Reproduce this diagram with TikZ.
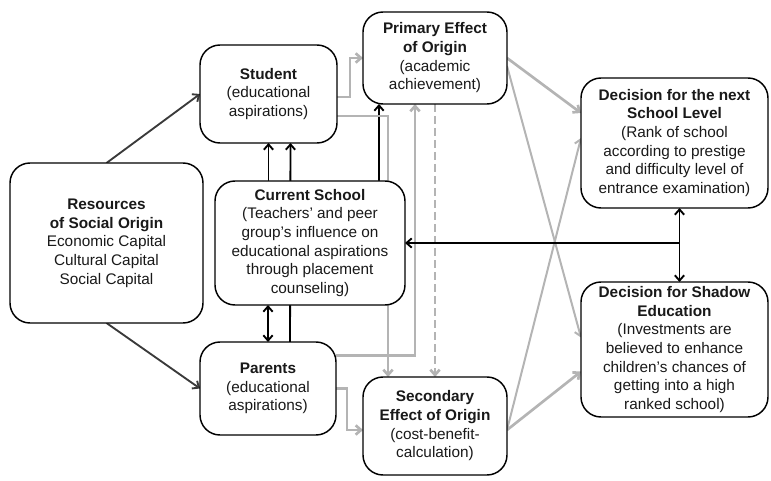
\documentclass[tikz,border=0pt]{standalone}
\usepackage{fontspec}
\setmainfont{Liberation Sans}
\usepackage{tikz}
\usetikzlibrary{arrows.meta,calc,backgrounds}
\definecolor{linegray}{HTML}{B4B4B4}
\definecolor{darkline}{HTML}{3A3A3A}

\begin{document}
\begin{tikzpicture}[x=0.75pt, y=-0.75pt, >={Straight Barb[length=4pt,width=7pt]},
  box/.style = {draw, rounded corners=15pt, line width=1.1pt, fill=white,
                align=center, inner sep=0pt, outer sep=0pt, text=black!90,
                font=\fontsize{11.5}{14}\selectfont},
  blackarr/.style = {line width=1.4pt, ->},
  darkarr/.style  = {line width=1.4pt, darkline, ->},
  grayarr/.style  = {line width=2pt, linegray, ->},
  ]
\useasboundingbox (0,0) rectangle (771,481);

% boxes
\node[box, minimum width=144.75pt, minimum height=120pt] (res) at (106.5,243)
  {\textbf{Resources}\\\textbf{of Social Origin}\\Economic Capital\\Cultural Capital\\Social Capital};
\node[box, minimum width=102.75pt, minimum height=73.5pt] (stud) at (268.5,94)
  {\textbf{Student}\\(educational\\aspirations)};
\node[box, minimum width=108pt, minimum height=69pt] (prim) at (435,58)
  {\textbf{Primary Effect}\\\textbf{of Origin}\\(academic\\achievement)};
\node[box, minimum width=142.5pt, minimum height=93pt] (cur) at (310,243)
  {\textbf{Current School}\\(Teachers' and peer\\group's influence on\\educational aspirations\\through placement\\counseling)};
\node[box, minimum width=102pt, minimum height=69.75pt] (par) at (268,388.5)
  {\textbf{Parents}\\(educational\\aspirations)};
\node[box, minimum width=108pt, minimum height=73.5pt] (sec) at (435,426)
  {\textbf{Secondary}\\\textbf{Effect of Origin}\\(cost-benefit-\\calculation)};
\node[box, minimum width=140.25pt, minimum height=97.5pt] (dec) at (674.5,143)
  {\textbf{Decision for the next}\\\textbf{School Level}\\(Rank of school\\according to prestige\\and difficulty level of\\entrance examination)};
\node[box, minimum width=140.25pt, minimum height=101.25pt] (sha) at (674.5,349.5)
  {\textbf{Decision for Shadow}\\\textbf{Education}\\(Investments are\\believed to enhance\\children's chances of\\getting into a high\\ranked school)};

\coordinate (up) at ($(cur.north)+(69,0)$);
\coordinate (j) at ($(dec.south)+(5,35)$);

\begin{scope}[on background layer]
% social origin
\draw[darkarr] (res.north) -- (stud.west);
\draw[darkarr] (res.south) -- (par.west);
% school and family
\draw[blackarr] (stud.south |- cur.north) -- (stud.south);
\draw[blackarr] ($(par.north)+(22,0)$) -- ($(stud.south)+(22,0)$);
\draw[blackarr, <->] (par.north |- cur.south) -- (par.north);
\draw[blackarr] (up) -- (up |- prim.south);
% effects of origin
\draw[grayarr] ($(stud.east)+(0,3)$) -- ++(13,0) |- (prim.west);
\draw[grayarr] ($(stud.east)+(0,22)$) -| ($(sec.north)+(-47,0)$);
\draw[grayarr] ($(par.east)+(0,-33)$) -| ($(prim.south)+(-20,0)$);
\draw[grayarr] (par.east) -- ++(11,0) |- ($(sec.west)+(0,4)$);
\draw[grayarr, dash pattern=on 6pt off 3pt] (prim.south) -- (sec.north);
% decisions
\draw[grayarr] (prim.east) -- ($(dec.west)+(0,-30)$);
\draw[grayarr, line width=1.5pt] ($(prim.east)+(0,8)$) -- ($(sha.west)+(0,-12)$);
\draw[grayarr, line width=1.5pt] ($(sec.east)+(0,4)$) -- ($(dec.west)+(0,-5)$);
\draw[grayarr] ($(sec.east)+(0,4)$) -- ($(sha.west)+(0,22)$);
\draw[blackarr, <->] ($(dec.south)+(5,0)$) -- ($(sha.north)+(5,0)$);
\draw[blackarr] (j) -- (j -| cur.east);
\end{scope}
\end{tikzpicture}
\end{document}
